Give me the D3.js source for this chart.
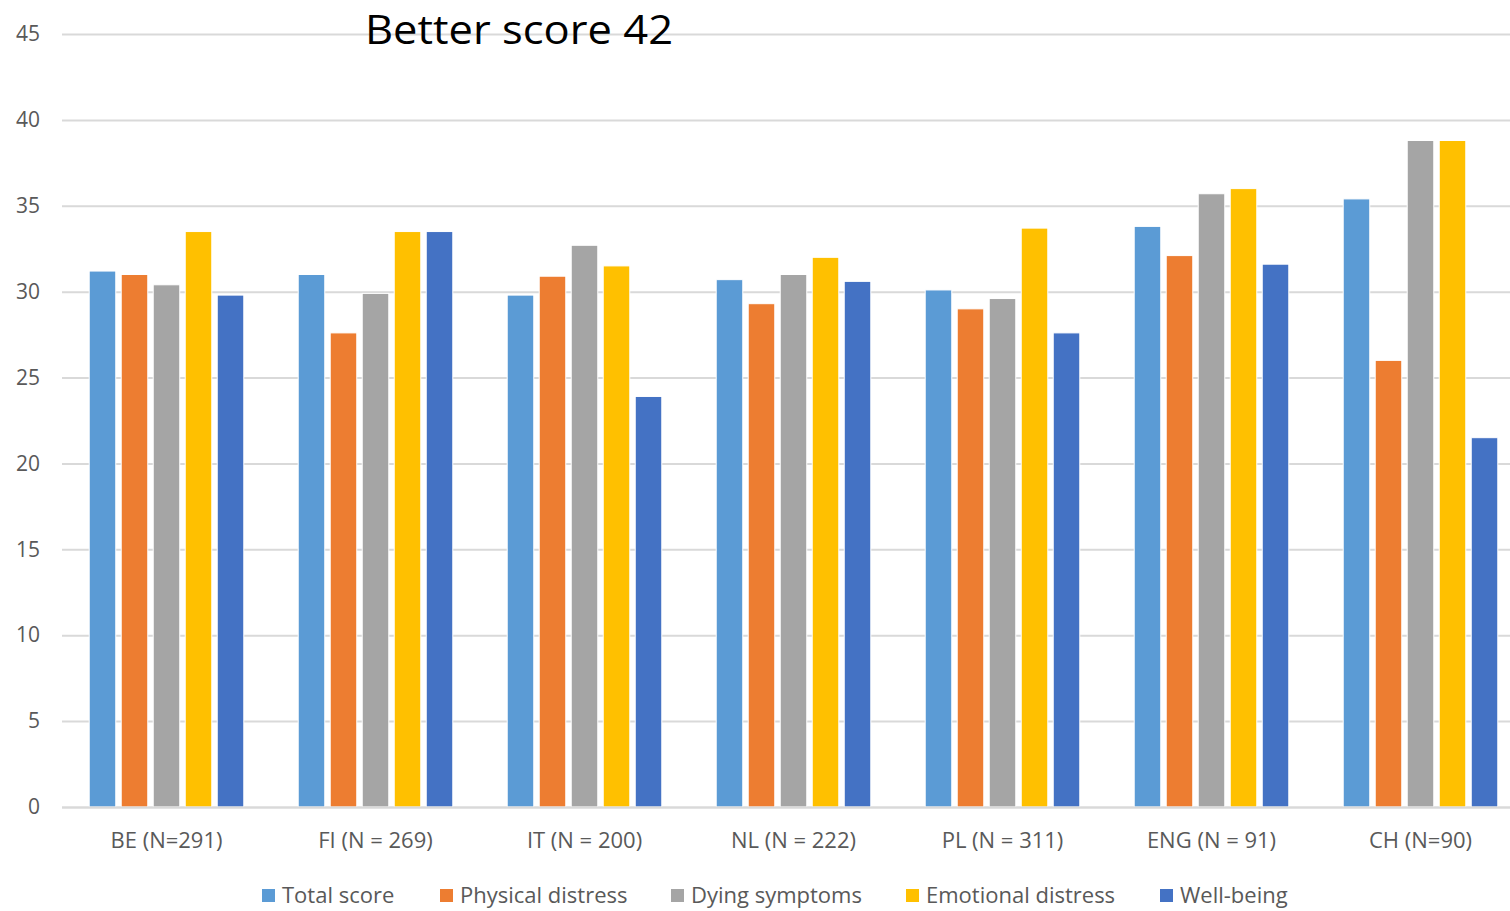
<!DOCTYPE html>
<html><head><meta charset="utf-8">
<script src="https://cdn.jsdelivr.net/npm/d3@7"></script>
<style>
html,body{margin:0;padding:0;background:#fff;overflow:hidden;}
svg{display:block;font-family:"Open Sans",sans-serif;}
</style></head>
<body><svg id="c" width="1510" height="911"></svg>
<script>
const categories = ["BE (N=291)","FI (N = 269)","IT (N = 200)","NL (N = 222)","PL (N = 311)","ENG (N = 91)","CH (N=90)"];
const seriesNames = ["Total score","Physical distress","Dying symptoms","Emotional distress","Well-being"];
const seriesColors = ["#5B9BD5","#ED7D31","#A5A5A5","#FFC000","#4472C4"];
const totalScore = [31.2,31.0,29.8,30.7,30.1,33.8,35.4];
const physicalDistress = [31.0,27.6,30.9,29.3,29.0,32.1,26.0];
const dyingSymptoms = [30.4,29.9,32.7,31.0,29.6,35.7,38.8];
const emotionalDistress = [33.5,33.5,31.5,32.0,33.7,36.0,38.8];
const wellBeing = [29.8,33.5,23.9,30.6,27.6,31.6,21.5];
const yTicks = [0,5,10,15,20,25,30,35,40,45];
const title = "Better score 42";

const seriesValues = [totalScore,physicalDistress,dyingSymptoms,emotionalDistress,wellBeing];
const svg = d3.select("#c");
const L = 62, R = 1510, T = 34, B = 807, XR = 1525;
const y = d3.scaleLinear().domain([0,45]).range([B,T]);
const x0 = d3.scaleBand().domain(categories).range([L,XR]).padding(0);
const x1 = d3.scaleBand().domain(seriesNames).range([0,x0.bandwidth()]).paddingInner(0.17).paddingOuter(0.85);

// gridlines
const yAxis = d3.axisLeft(y).tickValues(yTicks).tickSize(-(R-L)).tickPadding(22);
const g = svg.append("g").attr("transform",`translate(${L},0)`).call(yAxis);
g.select(".domain").remove();
g.selectAll(".tick line").attr("stroke","#d9d9d9").attr("stroke-width",2);
g.selectAll(".tick text").attr("fill","#595959").style("font-size","21px").style("font-family","'Open Sans',sans-serif");

// bars
const groups = svg.append("g").selectAll("g").data(categories).join("g")
  .attr("transform",c=>`translate(${x0(c)},0)`);
groups.selectAll("rect").data((c,i)=>seriesNames.map((s,j)=>({s,v:seriesValues[j][i],j})))
  .join("rect")
  .attr("x",d=>x1(d.s)).attr("width",x1.bandwidth())
  .attr("y",d=>y(d.v)).attr("height",d=>B-y(d.v))
  .attr("fill",d=>seriesColors[d.j]).attr("stroke","#fff").attr("stroke-width",1);

// baseline
svg.append("line").attr("x1",L).attr("x2",R).attr("y1",B+0.5).attr("y2",B+0.5).attr("stroke","#d9d9d9").attr("stroke-width",2);

// x axis labels
const xAxis = d3.axisBottom(x0).tickSize(0).tickPadding(25);
const xg = svg.append("g").attr("transform",`translate(0,${B})`).call(xAxis);
xg.select(".domain").remove();
xg.selectAll(".tick text").attr("fill","#595959").style("font-size","22px").style("font-family","'Open Sans',sans-serif");

// title
svg.append("text").attr("x",519).attr("y",44).attr("text-anchor","middle")
  .attr("fill","#000").style("font-size","41px").attr("textLength",308).attr("lengthAdjust","spacingAndGlyphs").text(title);

// legend
const legendX = [262,440,671,906,1160];
const lg = svg.append("g").selectAll("g").data(seriesNames).join("g")
  .attr("transform",(d,i)=>`translate(${legendX[i]},889)`);
lg.append("rect").attr("width",13).attr("height",13).attr("fill",(d,i)=>seriesColors[i]);
lg.append("text").attr("x",20).attr("y",14).attr("fill","#595959").style("font-size","22px").text(d=>d);
</script></body></html>
